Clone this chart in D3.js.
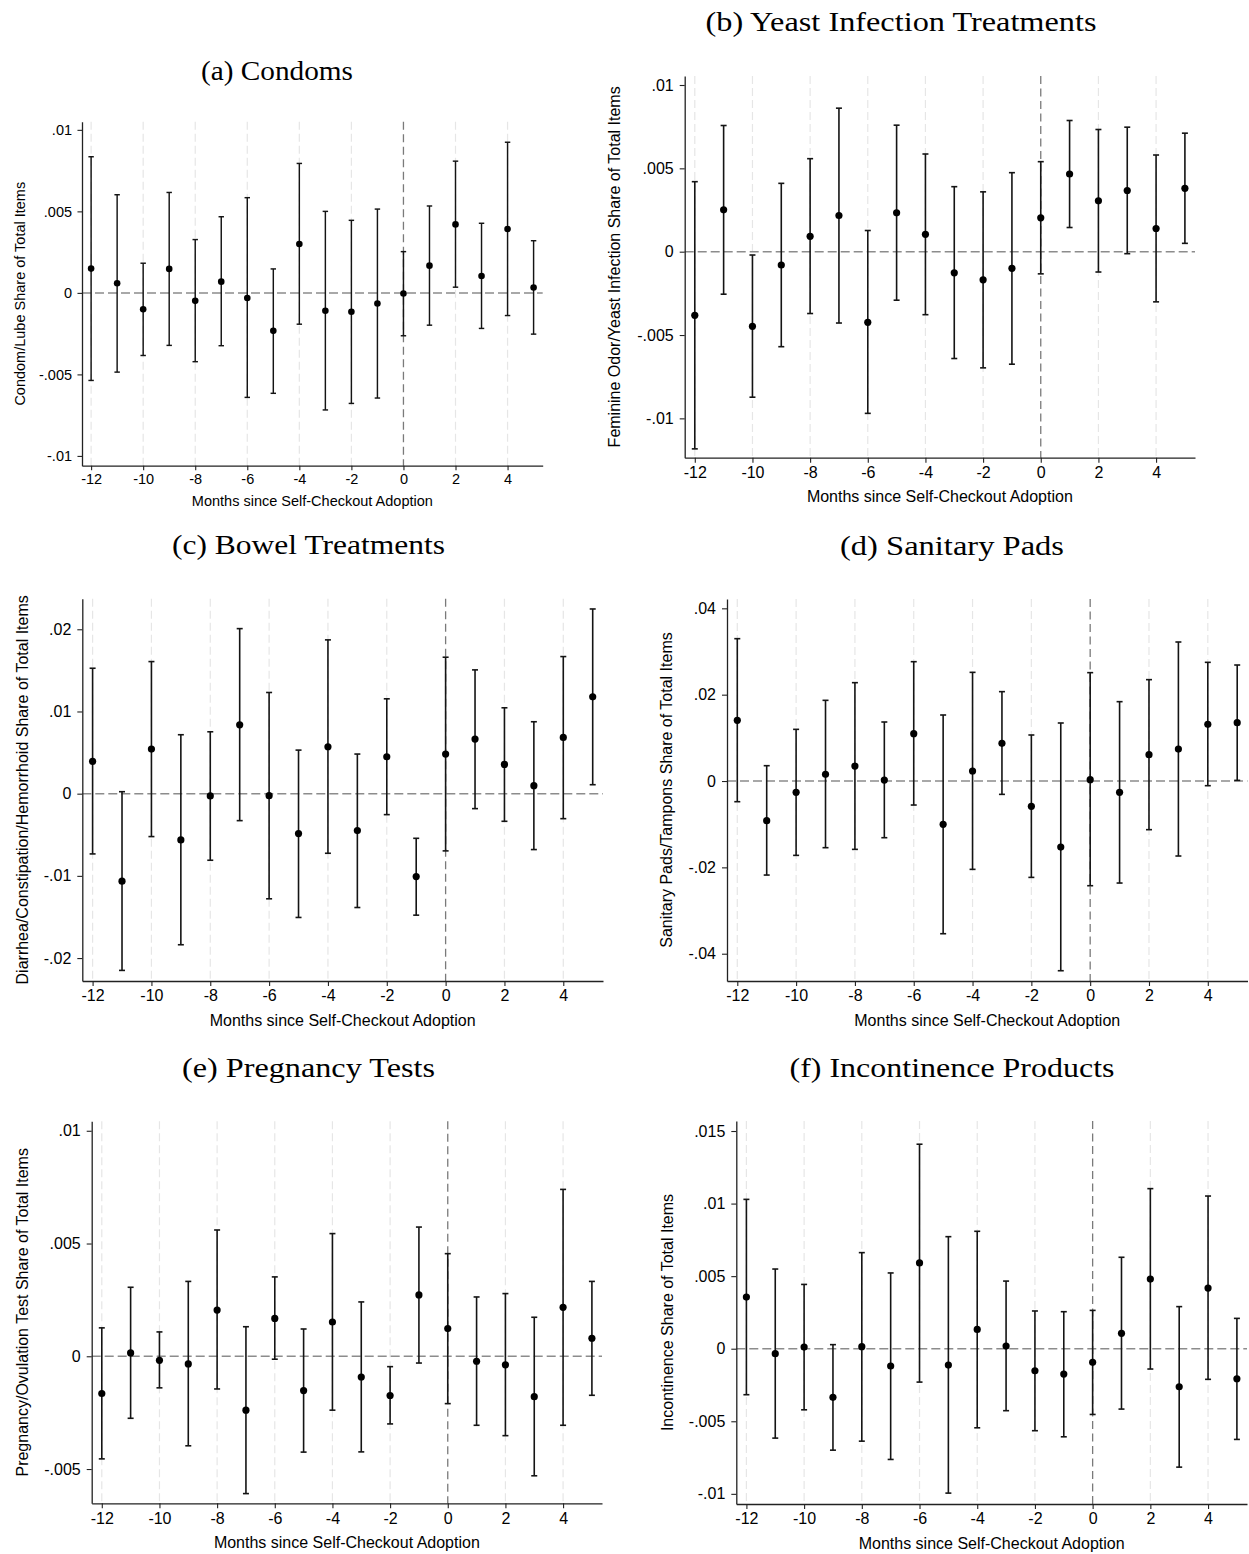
<!DOCTYPE html>
<html>
<head>
<meta charset="utf-8">
<script src="https://cdn.jsdelivr.net/npm/d3@7"></script>
<style>
  html, body { margin: 0; padding: 0; background: #fff; }
  svg { display: block; }
</style>
</head>
<body>
<svg id="fig" width="1249" height="1554"></svg>
<script>
// Event-study estimates: months relative to self-checkout adoption
const months = [-12, -11, -10, -9, -8, -7, -6, -5, -4, -3, -2, -1, 0, 1, 2, 3, 4, 5];
const xTickValues = [-12, -10, -8, -6, -4, -2, 0, 2, 4];
const xTickLabels = ["-12", "-10", "-8", "-6", "-4", "-2", "0", "2", "4"];

// (a) Condoms
const condomsEst = [0.00149, 0.00059, -0.00100, 0.00147, -0.00049, 0.00069, -0.00031, -0.00233, 0.00300, -0.00110, -0.00116, -0.00065, -0.00004, 0.00167, 0.00420, 0.00104, 0.00392, 0.00033];
const condomsLo  = [-0.00537, -0.00486, -0.00384, -0.00322, -0.00422, -0.00324, -0.00641, -0.00616, -0.00192, -0.00718, -0.00678, -0.00645, -0.00263, -0.00198, 0.00035, -0.00218, -0.00139, -0.00253];
const condomsHi  = [0.00835, 0.00602, 0.00182, 0.00616, 0.00327, 0.00467, 0.00584, 0.00147, 0.00794, 0.00500, 0.00445, 0.00514, 0.00253, 0.00533, 0.00808, 0.00427, 0.00924, 0.00320];
const condomsTicks = [-0.01, -0.005, 0, 0.005, 0.01];
const condomsTickLabels = ["-.01", "-.005", "0", ".005", ".01"];

// (b) Yeast infection treatments
const yeastEst = [-0.00382, 0.00251, -0.00448, -0.00080, 0.00092, 0.00217, -0.00424, 0.00233, 0.00104, -0.00127, -0.00169, -0.00100, 0.00203, 0.00466, 0.00305, 0.00367, 0.00139, 0.00380];
const yeastLo  = [-0.01183, -0.00255, -0.00873, -0.00570, -0.00371, -0.00428, -0.00970, -0.00291, -0.00378, -0.00641, -0.00697, -0.00675, -0.00133, 0.00145, -0.00122, -0.00012, -0.00301, 0.00050];
const yeastHi  = [0.00420, 0.00757, -0.00020, 0.00410, 0.00558, 0.00861, 0.00127, 0.00759, 0.00586, 0.00390, 0.00359, 0.00474, 0.00540, 0.00787, 0.00733, 0.00747, 0.00580, 0.00711];
const yeastTicks = [-0.01, -0.005, 0, 0.005, 0.01];
const yeastTickLabels = ["-.01", "-.005", "0", ".005", ".01"];

// (c) Bowel treatments
const bowelEst = [0.00393, -0.01065, 0.00543, -0.00563, -0.00028, 0.00838, -0.00024, -0.00486, 0.00571, -0.00449, 0.00449, -0.01008, 0.00482, 0.00664, 0.00356, 0.00097, 0.00684, 0.01178];
const bowelLo  = [-0.00733, -0.02150, -0.00522, -0.01838, -0.00810, -0.00328, -0.01279, -0.01506, -0.00725, -0.01385, -0.00255, -0.01478, -0.00696, -0.00182, -0.00336, -0.00680, -0.00304, 0.00109];
const bowelHi  = [0.01526, 0.00024, 0.01607, 0.00717, 0.00753, 0.02008, 0.01231, 0.00530, 0.01871, 0.00482, 0.01154, -0.00543, 0.01660, 0.01506, 0.01045, 0.00875, 0.01668, 0.02247];
const bowelTicks = [-0.02, -0.01, 0, 0.01, 0.02];
const bowelTickLabels = ["-.02", "-.01", "0", ".01", ".02"];

// (d) Sanitary pads
const padsEst = [0.01405, -0.00919, -0.00263, 0.00154, 0.00347, 0.00023, 0.01097, -0.01004, 0.00232, 0.00873, -0.00587, -0.01529, 0.00031, -0.00263, 0.00610, 0.00741, 0.01313, 0.01351];
const padsLo  = [-0.00479, -0.02178, -0.01722, -0.01544, -0.01583, -0.01313, -0.00556, -0.03537, -0.02046, -0.00309, -0.02232, -0.04394, -0.02425, -0.02363, -0.01127, -0.01737, -0.00108, 0.00015];
const padsHi  = [0.03297, 0.00355, 0.01197, 0.01869, 0.02278, 0.01367, 0.02764, 0.01529, 0.02517, 0.02070, 0.01066, 0.01344, 0.02510, 0.01838, 0.02348, 0.03220, 0.02749, 0.02687];
const padsTicks = [-0.04, -0.02, 0, 0.02, 0.04];
const padsTickLabels = ["-.04", "-.02", "0", ".02", ".04"];

// (e) Pregnancy tests
const pregEst = [-0.00165, 0.00015, -0.00018, -0.00034, 0.00205, -0.00239, 0.00168, -0.00152, 0.00152, -0.00092, -0.00174, 0.00272, 0.00123, -0.00022, -0.00038, -0.00179, 0.00217, 0.00080];
const pregLo  = [-0.00455, -0.00275, -0.00140, -0.00397, -0.00145, -0.00609, -0.00013, -0.00425, -0.00239, -0.00424, -0.00300, -0.00030, -0.00210, -0.00306, -0.00352, -0.00530, -0.00306, -0.00173];
const pregHi  = [0.00126, 0.00306, 0.00108, 0.00332, 0.00560, 0.00131, 0.00352, 0.00121, 0.00544, 0.00241, -0.00046, 0.00573, 0.00455, 0.00263, 0.00278, 0.00173, 0.00740, 0.00332];
const pregTicks = [-0.005, 0, 0.005, 0.01];
const pregTickLabels = ["-.005", "0", ".005", ".01"];

// (f) Incontinence products
const incontEst = [0.00356, -0.00034, 0.00011, -0.00335, 0.00014, -0.00119, 0.00591, -0.00113, 0.00133, 0.00018, -0.00152, -0.00175, -0.00094, 0.00106, 0.00480, -0.00262, 0.00418, -0.00207];
const incontLo  = [-0.00317, -0.00616, -0.00421, -0.00699, -0.00637, -0.00763, -0.00230, -0.00995, -0.00545, -0.00427, -0.00565, -0.00607, -0.00453, -0.00416, -0.00140, -0.00816, -0.00211, -0.00625];
const incontHi  = [0.01029, 0.00549, 0.00443, 0.00028, 0.00662, 0.00522, 0.01409, 0.00772, 0.00809, 0.00466, 0.00260, 0.00255, 0.00264, 0.00630, 0.01103, 0.00290, 0.01052, 0.00209];
const incontTicks = [-0.01, -0.005, 0, 0.005, 0.01, 0.015];
const incontTickLabels = ["-.01", "-.005", "0", ".005", ".01", ".015"];

const titles = ["(a) Condoms", "(b) Yeast Infection Treatments", "(c) Bowel Treatments",
                "(d) Sanitary Pads", "(e) Pregnancy Tests", "(f) Incontinence Products"];
const yTitles = ["Condom/Lube Share of Total Items",
                 "Feminine Odor/Yeast Infection Share of Total Items",
                 "Diarrhea/Constipation/Hemorrhoid Share of Total Items",
                 "Sanitary Pads/Tampons Share of Total Items",
                 "Pregnancy/Ovulation Test Share of Total Items",
                 "Incontinence Share of Total Items"];
const xTitle = "Months since Self-Checkout Adoption";

// Series bundles for each panel
const series = [
  { est: condomsEst, lo: condomsLo, hi: condomsHi, ticks: condomsTicks, tickLabels: condomsTickLabels },
  { est: yeastEst,   lo: yeastLo,   hi: yeastHi,   ticks: yeastTicks,   tickLabels: yeastTickLabels },
  { est: bowelEst,   lo: bowelLo,   hi: bowelHi,   ticks: bowelTicks,   tickLabels: bowelTickLabels },
  { est: padsEst,    lo: padsLo,    hi: padsHi,    ticks: padsTicks,    tickLabels: padsTickLabels },
  { est: pregEst,    lo: pregLo,    hi: pregHi,    ticks: pregTicks,    tickLabels: pregTickLabels },
  { est: incontEst,  lo: incontLo,  hi: incontHi,  ticks: incontTicks,  tickLabels: incontTickLabels }
];

// Panel geometry (plot box, y-range, caption placement, font scale)
const layout = [
  { left: 82,    right: 542.7, top: 121.7,  bottom: 465.7,  yDom: [-0.0106, 0.0105],  tx: 277,   ty: 80,   tw: 152, ytx: 20,    fs: 14.5, r: 3.3 },
  { left: 684.7, right: 1195,  top: 76,     bottom: 457.7,  yDom: [-0.01236, 0.01054], tx: 901,   ty: 31,   tw: 391, ytx: 614,   fs: 16,   r: 3.6 },
  { left: 82.3,  right: 603,   top: 598.7,  bottom: 981,    yDom: [-0.02279, 0.02372], tx: 308.5, ty: 554,  tw: 273, ytx: 22,    fs: 16,   r: 3.6 },
  { left: 727,   right: 1247.5,top: 599,    bottom: 981,    yDom: [-0.04632, 0.04216], tx: 952,   ty: 555,  tw: 224, ytx: 666,   fs: 16,   r: 3.6 },
  { left: 91.7,  right: 602,   top: 1121.3, bottom: 1503.3, yDom: [-0.00652, 0.01042], tx: 308.5, ty: 1077, tw: 253, ytx: 22,    fs: 16,   r: 3.6 },
  { left: 736.3, right: 1247,  top: 1121,   bottom: 1504,   yDom: [-0.0107, 0.01569],  tx: 952,   ty: 1077, tw: 325, ytx: 667,   fs: 16,   r: 3.6 }
];

const svg = d3.select("#fig");
const sansFont = "Arial, 'Liberation Sans', Helvetica, sans-serif";

series.forEach((s, k) => {
  const L = layout[k];
  const x = d3.scaleLinear().domain([-12.35, 5.35]).range([L.left, L.right]);
  const y = d3.scaleLinear().domain(L.yDom).range([L.bottom, L.top]);
  const g = svg.append("g");
  const k9 = L.fs / 16;

  // panel caption
  svg.append("text")
    .attr("x", L.tx).attr("y", L.ty)
    .attr("text-anchor", "middle")
    .attr("font-family", "'Liberation Serif', 'Times New Roman', serif")
    .attr("font-size", 27)
    .attr("textLength", L.tw)
    .attr("lengthAdjust", "spacingAndGlyphs")
    .attr("fill", "#000")
    .text(titles[k]);

  // light dashed vertical grid at labelled months
  g.selectAll("line.grid")
    .data(xTickValues.filter(d => d !== 0))
    .join("line")
    .attr("x1", d => x(d)).attr("x2", d => x(d))
    .attr("y1", L.top).attr("y2", L.bottom)
    .attr("stroke", "#e6e6e6").attr("stroke-width", 1.2)
    .attr("stroke-dasharray", "8,4");

  // zero reference line
  g.append("line")
    .attr("x1", L.left).attr("x2", L.right)
    .attr("y1", y(0)).attr("y2", y(0))
    .attr("stroke", "#8c8c8c").attr("stroke-width", 1.5)
    .attr("stroke-dasharray", "9,4");

  // adoption month marker
  g.append("line")
    .attr("x1", x(0)).attr("x2", x(0))
    .attr("y1", L.top).attr("y2", L.bottom)
    .attr("stroke", "#7a7a7a").attr("stroke-width", 1.3)
    .attr("stroke-dasharray", "8,4.5");

  const rows = months.map((m, i) => ({ m, est: s.est[i], lo: s.lo[i], hi: s.hi[i] }));
  const cap = 3 * k9;

  // confidence intervals
  const bars = g.selectAll("g.ci").data(rows).join("g").attr("class", "ci")
    .attr("stroke", "#141414").attr("stroke-width", 1.6 * k9);
  bars.append("line")
    .attr("x1", d => x(d.m)).attr("x2", d => x(d.m))
    .attr("y1", d => y(d.lo)).attr("y2", d => y(d.hi));
  bars.append("line")
    .attr("x1", d => x(d.m) - cap).attr("x2", d => x(d.m) + cap)
    .attr("y1", d => y(d.hi)).attr("y2", d => y(d.hi));
  bars.append("line")
    .attr("x1", d => x(d.m) - cap).attr("x2", d => x(d.m) + cap)
    .attr("y1", d => y(d.lo)).attr("y2", d => y(d.lo));

  // point estimates
  g.selectAll("circle.pt").data(rows).join("circle")
    .attr("cx", d => x(d.m)).attr("cy", d => y(d.est))
    .attr("r", L.r).attr("fill", "#000");

  // axes
  const yAxis = d3.axisLeft(y)
    .tickValues(s.ticks)
    .tickFormat((d, i) => s.tickLabels[i])
    .tickSize(5 * k9).tickSizeOuter(0).tickPadding(6 * k9);
  const ya = g.append("g").attr("transform", `translate(${L.left},0)`).call(yAxis);

  const xAxis = d3.axisBottom(x)
    .tickValues(xTickValues)
    .tickFormat((d, i) => xTickLabels[i])
    .tickSize(5 * k9).tickSizeOuter(0).tickPadding(4 * k9);
  const xa = g.append("g").attr("transform", `translate(0,${L.bottom})`).call(xAxis);

  [ya, xa].forEach(a => {
    a.select(".domain").attr("stroke", "#222").attr("stroke-width", 1.3);
    a.selectAll(".tick line").attr("stroke", "#222").attr("stroke-width", 1.1);
    a.selectAll(".tick text").attr("font-family", sansFont).attr("font-size", L.fs).attr("fill", "#000");
  });

  // axis titles
  g.append("text")
    .attr("x", (L.left + L.right) / 2).attr("y", L.bottom + 39 * k9)
    .attr("dy", "0.35em")
    .attr("text-anchor", "middle")
    .attr("font-family", sansFont).attr("font-size", L.fs).attr("fill", "#000")
    .text(xTitle);

  g.append("text")
    .attr("transform", `translate(${L.ytx},${(L.top + L.bottom) / 2}) rotate(-90)`)
    .attr("dy", "0.35em")
    .attr("text-anchor", "middle")
    .attr("font-family", sansFont).attr("font-size", L.fs).attr("fill", "#000")
    .text(yTitles[k]);
});
</script>
</body>
</html>
